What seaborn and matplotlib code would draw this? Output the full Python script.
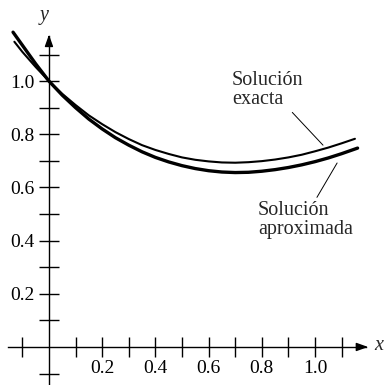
import matplotlib
matplotlib.use("Agg")
import matplotlib.pyplot as plt
import seaborn as sns
import pandas as pd

# values
x_exacta = [-0.13, -0.1, -0.05, 0.0, 0.05, 0.1, 0.15, 0.2, 0.25, 0.3, 0.35, 0.4, 0.45, 0.5,
            0.55, 0.6, 0.65, 0.7, 0.75, 0.8, 0.85, 0.9, 0.95, 1.0, 1.05, 1.1, 1.15]
y_exacta = [1.148, 1.110, 1.053, 1.000, 0.952, 0.910, 0.871, 0.838, 0.808, 0.782, 0.759, 0.741,
            0.726, 0.713, 0.704, 0.698, 0.694, 0.693, 0.695, 0.699, 0.705, 0.713, 0.723, 0.736,
            0.750, 0.766, 0.783]
x_aprox = [-0.135, -0.1, -0.05, 0.0, 0.05, 0.1, 0.15, 0.2, 0.25, 0.3, 0.35, 0.4, 0.45, 0.5,
           0.55, 0.6, 0.65, 0.7, 0.75, 0.8, 0.85, 0.9, 0.95, 1.0, 1.05, 1.1, 1.16]
y_aprox = [1.184, 1.135, 1.065, 1.000, 0.947, 0.900, 0.857, 0.820, 0.787, 0.759, 0.734, 0.713,
           0.696, 0.682, 0.671, 0.663, 0.658, 0.656, 0.657, 0.661, 0.667, 0.675, 0.685, 0.697,
           0.711, 0.727, 0.748]
x_ticks = [-0.1, 0.1, 0.2, 0.3, 0.4, 0.5, 0.6, 0.7, 0.8, 0.9, 1.0, 1.1]
x_labels = ["0.2", "0.4", "0.6", "0.8", "1.0"]
y_ticks = [-0.1, 0.1, 0.2, 0.3, 0.4, 0.5, 0.6, 0.7, 0.8, 0.9, 1.0, 1.1]
y_labels = ["0.2", "0.4", "0.6", "0.8", "1.0"]

sns.set_style("white")
plt.rcParams["font.family"] = ["Liberation Serif", "DejaVu Serif"]

fig = plt.figure(figsize=(3.85, 3.85), dpi=100)
ax = fig.add_axes([0, 0, 1, 1])
ax.set_xlim(-0.184, 1.263)
ax.set_ylim(-0.143, 1.305)

df_e = pd.DataFrame({"x": x_exacta, "y": y_exacta})
df_a = pd.DataFrame({"x": x_aprox, "y": y_aprox})
sns.lineplot(data=df_e, x="x", y="y", ax=ax, color="black", lw=1.5, sort=False)
sns.lineplot(data=df_a, x="x", y="y", ax=ax, color="black", lw=2.4, sort=False)

# axes through the origin
for s in ["top", "right"]:
    ax.spines[s].set_visible(False)
ax.spines["bottom"].set_position(("data", 0))
ax.spines["left"].set_position(("data", 0))
ax.spines["bottom"].set_bounds(-0.155, 1.19)
ax.spines["left"].set_bounds(-0.15, 1.17)
for s in ["bottom", "left"]:
    ax.spines[s].set_linewidth(1.0)
    ax.spines[s].set_color("black")
ax.annotate("", xy=(1.21, 0), xytext=(1.17, 0),
            arrowprops=dict(arrowstyle="-|>,head_length=0.7,head_width=0.25",
                            color="black", lw=1.0))
ax.annotate("", xy=(0, 1.185), xytext=(0, 1.15),
            arrowprops=dict(arrowstyle="-|>,head_length=0.7,head_width=0.25",
                            color="black", lw=1.0))

ax.set_xticks(x_ticks)
ax.set_xticklabels(["" if f"{t:.1f}" not in x_labels else f"{t:.1f}" for t in x_ticks])
ax.set_yticks(y_ticks)
ax.set_yticklabels(["" if f"{t:.1f}" not in y_labels else f"{t:.1f}" for t in y_ticks])
ax.tick_params(axis="both", which="major", bottom=True, left=True, direction="inout",
               length=15, width=1.0, labelsize=14, color="black", labelcolor="black")
ax.tick_params(axis="x", pad=2)
ax.tick_params(axis="y", pad=3)
ax.set_xlabel("")
ax.set_ylabel("")

ax.text(1.24, 0.005, "x", style="italic", fontsize=14.5, ha="center", va="center")
ax.text(-0.02, 1.245, "y", style="italic", fontsize=14.5, ha="center", va="center")

ax.annotate("Solución\nexacta", xy=(1.03, 0.759), xytext=(0.688, 0.966),
            fontsize=14.5, ha="left", va="center", linespacing=1.0,
            arrowprops=dict(arrowstyle="-", color="black", lw=0.7,
                            shrinkA=0, shrinkB=0, relpos=(0.8, 0.0)))
ax.annotate("Solución\naproximada", xy=(1.083, 0.692), xytext=(0.786, 0.479),
            fontsize=14.5, ha="left", va="center", linespacing=1.0,
            arrowprops=dict(arrowstyle="-", color="black", lw=0.7,
                            shrinkA=0, shrinkB=0, relpos=(0.6, 1.0)))

fig.savefig("out.png", dpi=100)
